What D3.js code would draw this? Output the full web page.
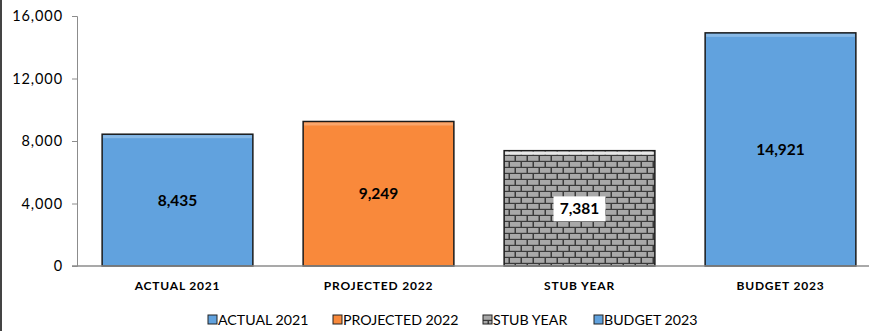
<!DOCTYPE html>
<html>
<head>
<meta charset="utf-8">
<script src="https://d3js.org/d3.v7.min.js"></script>
<style>
  body { margin: 0; background: #fff; font-family: Lato, "Open Sans", sans-serif; }
  svg { display: block; }
</style>
</head>
<body>
<div id="chart"></div>
<script>
// chart data
var categories = ["ACTUAL 2021", "PROJECTED 2022", "STUB YEAR", "BUDGET 2023"];
var values = [8435, 9249, 7381, 14921];
var yTicks = [0, 4000, 8000, 12000, 16000];

var width = 869, height = 331;
var margin = { top: 16, right: -12, bottom: 65, left: 77 };
var fills = ["#61a2de", "#f9893b", "url(#brick)", "#61a2de"];

var svg = d3.select("#chart").append("svg")
    .attr("width", width)
    .attr("height", height);

// brick pattern
var defs = svg.append("defs");
var pat = defs.append("pattern")
    .attr("id", "brick")
    .attr("patternUnits", "userSpaceOnUse")
    .attr("width", 12).attr("height", 12);
pat.append("rect").attr("width", 12).attr("height", 12).attr("fill", "#3a3a3a");
pat.append("rect").attr("x", 0).attr("y", 0).attr("width", 10.5).attr("height", 4.8).attr("fill", "#a8a8a8");
pat.append("rect").attr("x", 6).attr("y", 6).attr("width", 10.5).attr("height", 4.8).attr("fill", "#a8a8a8");
pat.append("rect").attr("x", -6).attr("y", 6).attr("width", 10.5).attr("height", 4.8).attr("fill", "#a8a8a8");

var x = d3.scaleBand()
    .domain(categories)
    .range([margin.left, width - margin.right])
    .paddingInner(0.25)
    .paddingOuter(0.125);

var y = d3.scaleLinear()
    .domain([0, 16000])
    .range([height - margin.bottom, margin.top]);

// left frame edge
svg.append("line")
    .attr("x1", 1).attr("x2", 1)
    .attr("y1", 0).attr("y2", height)
    .attr("stroke", "#444").attr("stroke-width", 2);

// y axis
var yAxis = svg.append("g")
    .attr("transform", "translate(" + margin.left + ",0)")
    .call(d3.axisLeft(y).tickValues(yTicks).tickSize(5).tickPadding(9)
        .tickFormat(d3.format(",")));
yAxis.selectAll("path, line").attr("stroke", "#8c8c8c");
yAxis.selectAll("text").attr("font-size", 14.5).attr("fill", "#000")
    .attr("letter-spacing", 0.9)
    .attr("font-family", "Lato, sans-serif");

// bars
var bars = svg.selectAll(".bar")
    .data(values)
    .enter().append("g");

bars.append("rect")
    .attr("x", function(d, i) { return x(categories[i]); })
    .attr("y", function(d) { return y(d); })
    .attr("width", x.bandwidth())
    .attr("height", function(d) { return y(0) - y(d); })
    .attr("fill", function(d, i) { return fills[i]; })
    .attr("stroke", "#1a1a1a")
    .attr("stroke-width", 1.5);

// bevel highlight on the top edge
bars.append("rect")
    .attr("x", function(d, i) { return x(categories[i]) + 1; })
    .attr("y", function(d) { return y(d) + 1; })
    .attr("width", x.bandwidth() - 2)
    .attr("height", 3)
    .attr("fill", function(d, i) { return i === 2 ? "#e8e8e8" : "#fff"; })
    .attr("opacity", function(d, i) { return i === 2 ? 1 : 0.25; });

// x axis line
svg.append("line")
    .attr("x1", margin.left - 5).attr("x2", width)
    .attr("y1", y(0)).attr("y2", y(0))
    .attr("stroke", "#8c8c8c").attr("stroke-width", 1.5);

// value labels
bars.each(function(d, i) {
    var g = d3.select(this);
    var cx = x(categories[i]) + x.bandwidth() / 2;
    var cy = (y(d) + y(0)) / 2;
    if (i === 2) {
        g.append("rect")
            .attr("x", cx - 26).attr("y", cy - 12)
            .attr("width", 52).attr("height", 25)
            .attr("fill", "#fff");
    }
    g.append("text")
        .attr("x", cx).attr("y", cy + 5.5)
        .attr("text-anchor", "middle")
        .attr("font-size", 15.5).attr("font-weight", "bold")
        .text(d3.format(",")(d));
});

// category labels
svg.selectAll(".cat")
    .data(categories)
    .enter().append("text")
    .attr("x", function(d) { return x(d) + x.bandwidth() / 2; })
    .attr("y", y(0) + 24)
    .attr("text-anchor", "middle")
    .attr("font-size", 12).attr("font-weight", "bold")
    .attr("letter-spacing", 0.8)
    .text(function(d) { return d; });

// legend
var legendX = [208, 333, 483, 594];
var leg = svg.selectAll(".leg")
    .data(categories)
    .enter().append("g")
    .attr("transform", function(d, i) { return "translate(" + legendX[i] + ",315)"; });
leg.append("rect")
    .attr("width", 9).attr("height", 9)
    .attr("fill", function(d, i) { return fills[i]; })
    .attr("stroke", "#222").attr("stroke-width", 1);
leg.append("text")
    .attr("x", 10).attr("y", 10)
    .attr("font-size", 14.2)
    .text(function(d) { return d; });
</script>
</body>
</html>
